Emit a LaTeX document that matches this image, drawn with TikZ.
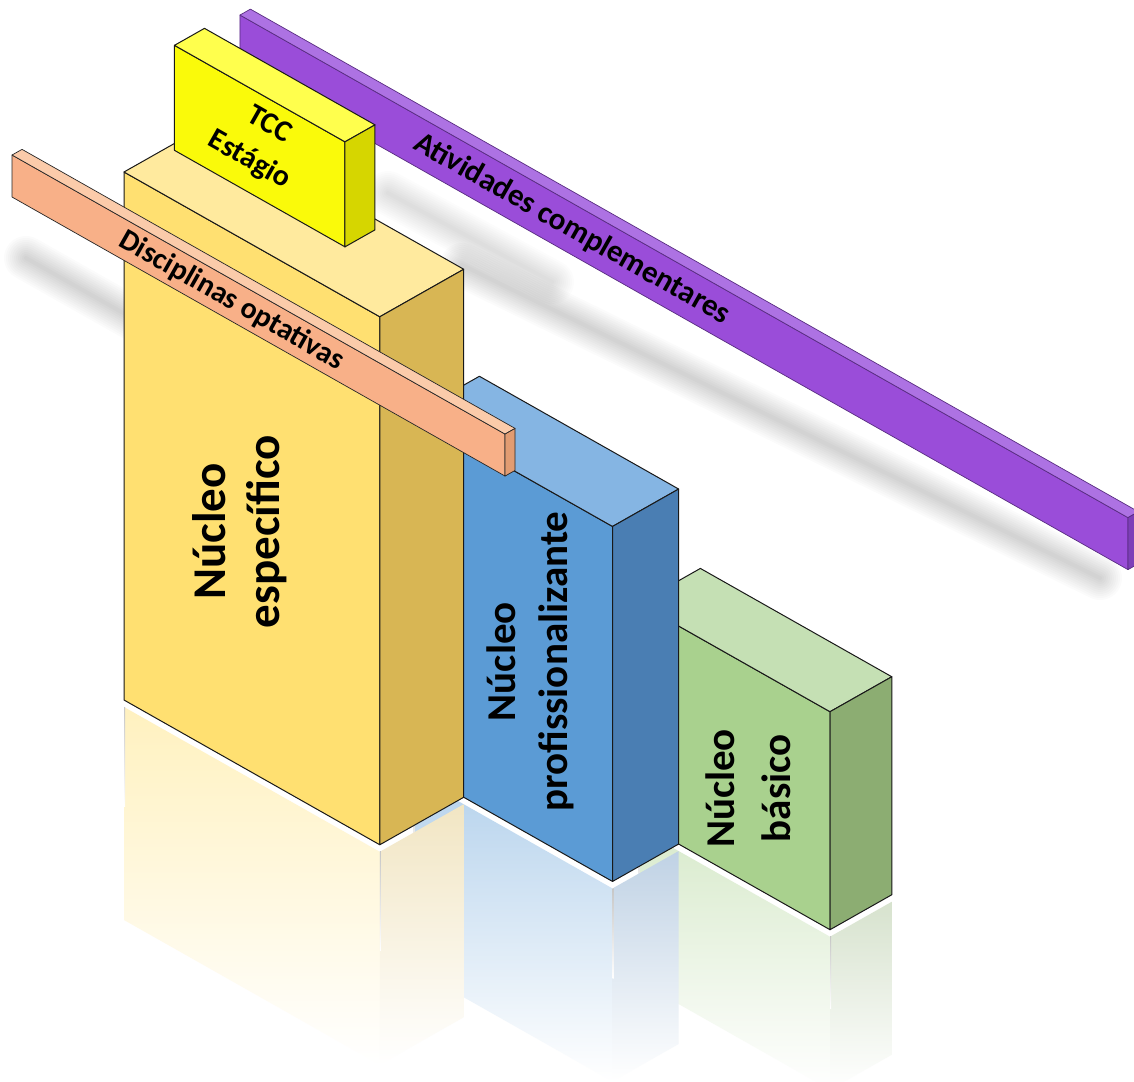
\documentclass[tikz,border=0pt]{standalone}
\usepackage{fontspec}
\setmainfont{Carlito}

% face colours: F = front, T = top, S = side
\definecolor{yellowF}{HTML}{FFE071}
\definecolor{yellowT}{HTML}{FFEA9E}
\definecolor{yellowS}{HTML}{D8B654}
\definecolor{tccF}{HTML}{FAFA0A}
\definecolor{tccT}{HTML}{FFFF4D}
\definecolor{tccS}{HTML}{D6D600}
\definecolor{orangeF}{HTML}{F8B088}
\definecolor{orangeT}{HTML}{FBCBAA}
\definecolor{orangeS}{HTML}{E29C72}
\definecolor{purpleF}{HTML}{9A4DD9}
\definecolor{purpleT}{HTML}{AD72E3}
\definecolor{purpleS}{HTML}{7E3FB8}
\definecolor{blueF}{HTML}{5B9BD5}
\definecolor{blueT}{HTML}{85B5E3}
\definecolor{blueS}{HTML}{4A7EB3}
\definecolor{greenF}{HTML}{A9D18E}
\definecolor{greenT}{HTML}{C5E0B4}
\definecolor{greenS}{HTML}{8CAD72}

% isometric block: x0 x1 y0 y1 z0 z1 colour style
\newcommand{\isobox}[8]{%
  \filldraw[#8, fill=#7F] (#1,#3,#5) -- (#2,#3,#5) -- (#2,#3,#6) -- (#1,#3,#6) -- cycle;
  \filldraw[#8, fill=#7T] (#1,#3,#6) -- (#2,#3,#6) -- (#2,#4,#6) -- (#1,#4,#6) -- cycle;
  \filldraw[#8, fill=#7S] (#2,#3,#5) -- (#2,#4,#5) -- (#2,#4,#6) -- (#2,#3,#6) -- cycle;
}
% floor reflection, fading into the white floor: x0 x1 y0 y1 depth colour
\newcommand{\mirrorbox}[6]{%
  \shade[top color=#6F!45!white, bottom color=white] (#1,#3,-7) -- (#2,#3,-7) -- (#2,#3,-#5) -- (#1,#3,-#5) -- cycle;
  \shade[top color=#6S!35!white, bottom color=white] (#2,#3,-7) -- (#2,#4,-7) -- (#2,#4,-#5) -- (#2,#3,-#5) -- cycle;
  \shade[top color=black!22, bottom color=white]
    (#1,#3,-7) -- ++(1.2pt,0pt) -- ++(0pt,-0.45*#5 pt) -- ++(-1.2pt,0pt) -- cycle;
  \shade[top color=black!22, bottom color=white]
    (#2,#3,-7) -- ++(1.2pt,0pt) -- ++(0pt,-0.45*#5 pt) -- ++(-1.2pt,0pt) -- cycle;
}

\begin{document}
\begin{tikzpicture}[
    boxline/.style={draw=black!90, line width=1pt, line join=round},
    barline/.style={draw=#1, line width=0.7pt, line join=round},
    boxlabel/.style={font=\bfseries, text=black, align=center, inner sep=0pt},
    shadowline/.style={black, line cap=round}
  ]
  \useasboundingbox (0pt,0pt) rectangle (1134pt,-1081pt);
  \fill[white] (0pt,0pt) rectangle (1134pt,-1081pt);

  % soft shadows of the bars
  \coordinate (pshadowA) at (462pt,-265pt);
  \coordinate (pshadowB) at (1100pt,-578pt);
  \coordinate (oshadowA) at (26pt,-258pt);
  \coordinate (oshadowB) at (330pt,-430pt);
  \coordinate (tshadowA) at (388pt,-193pt);
  \coordinate (tshadowB) at (552pt,-282pt);
  \foreach \w in {4,8,...,44} {
    \draw[shadowline, line width=\w pt, opacity=0.017] (pshadowA) -- (pshadowB);
    \draw[shadowline, line width=\w pt, opacity=0.017] (oshadowA) -- (oshadowB);
    \draw[shadowline, line width=\w pt, opacity=0.012] (tshadowA) -- (tshadowB);
  }

  \begin{scope}[shift={(124pt,-700pt)},
      x={(0.870pt,-0.4924pt)}, y={(0.870pt,0.4924pt)}, z={(0pt,1pt)}]
    % reflections on the floor
    \mirrorbox{419}{639}{172.5}{243.5}{160}{green}
    \mirrorbox{236}{465}{96.5}{172.5}{200}{blue}
    \mirrorbox{0}{294}{0}{96.5}{220}{yellow}

    % back bar
    \isobox{-136.7}{884}{270}{282}{432.7}{484.7}{purple}{barline=purpleS!70!black}
    \node[boxlabel, font=\bfseries\fontsize{31}{36}\selectfont, rotate=-29.5]
      (ativ) at (245,270,458.7) {Atividades complementares};

    % the three cores, back to front
    \isobox{419}{639}{172.5}{243.5}{0}{218}{green}{boxline}
    \isobox{236}{465}{96.5}{172.5}{0}{355}{blue}{boxline}
    \isobox{0}{294}{0}{96.5}{0}{528}{yellow}{boxline}
    \isobox{7}{203}{51}{85.5}{528}{633}{tcc}{boxline}

    % front bar
    \isobox{-108.7}{458}{-20}{-8.5}{459.3}{501.3}{orange}{barline=black!85}

    \node[boxlabel, font=\bfseries\fontsize{47}{54}\selectfont, rotate=90]
      (especifico) at (133,0,234) {Núcleo\\específico};
    \node[boxlabel, font=\bfseries\fontsize{41}{52}\selectfont, rotate=90]
      (profis) at (370,96.5,173) {Núcleo\\profissionalizante};
    \node[boxlabel, font=\bfseries\fontsize{41}{56}\selectfont, rotate=90]
      (basico) at (545,172.5,95) {Núcleo\\básico};
    \node[boxlabel, font=\bfseries\fontsize{30}{40}\selectfont, rotate=-29.5]
      (tcc) at (104,51,583) {TCC\\Estágio};
    \node[boxlabel, font=\bfseries\fontsize{30}{36}\selectfont, rotate=-29.5]
      (optativas) at (144,-20,480) {Disciplinas optativas};
  \end{scope}
\end{tikzpicture}
\end{document}
